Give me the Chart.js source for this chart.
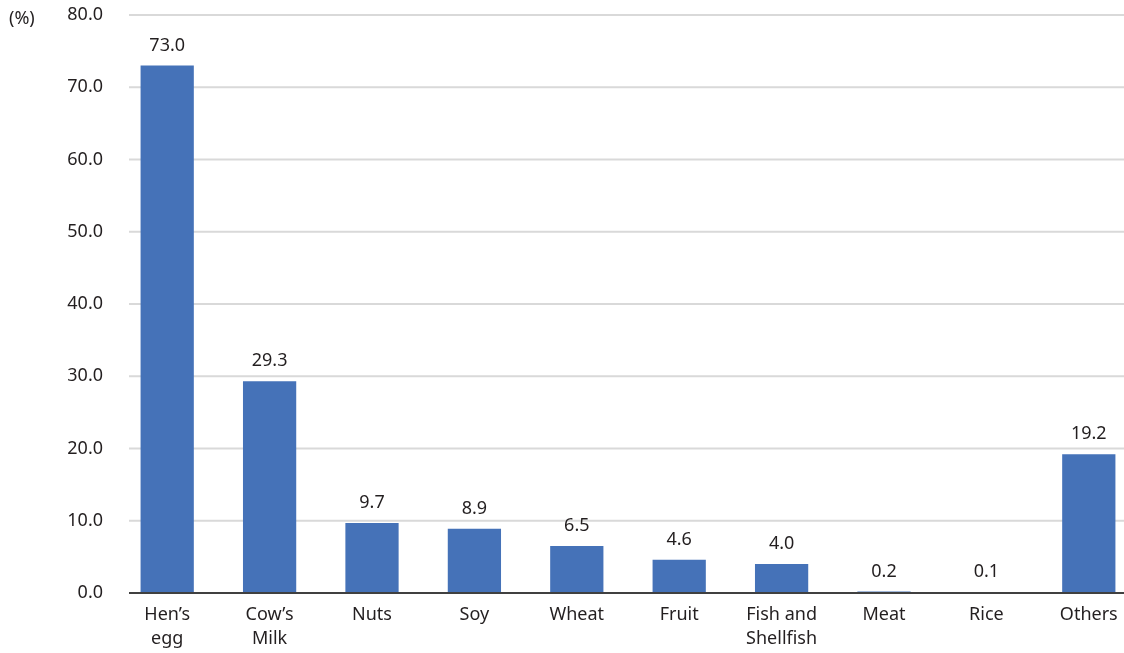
<!DOCTYPE html>
<html>
<head>
<meta charset="utf-8">
<script src="https://cdn.jsdelivr.net/npm/chart.js@4/dist/chart.umd.min.js"></script>
<style>
  html, body { margin: 0; padding: 0; background: #fff; overflow: hidden; }
  #wrap { position: relative; width: 1142px; height: 653px; }
  #unit { position: absolute; left: 9px; top: 5px; font: 18px "Noto Sans", sans-serif; color: #231f20; }
</style>
</head>
<body>
<div id="wrap">
  <canvas id="chart" width="1142" height="653"></canvas>
  <div id="unit">(%)</div>
</div>
<script>
const categories = [["Hen’s", "egg"], ["Cow’s", "Milk"], "Nuts", "Soy", "Wheat", "Fruit", ["Fish and", "Shellfish"], "Meat", "Rice", "Others"];
const values = [73.0, 29.3, 9.7, 8.9, 6.5, 4.6, 4.0, 0.2, 0.1, 19.2];
const yTicks = [0, 10, 20, 30, 40, 50, 60, 70, 80];

const textColor = "#231f20";
const fontFamily = "'Noto Sans', sans-serif";
const gridLeft = 129;

const gridPlugin = {
  id: "gridPlugin",
  beforeDatasetsDraw(chart) {
    const ctx = chart.ctx;
    const y = chart.scales.y;
    const right = chart.chartArea.right;
    ctx.save();
    ctx.strokeStyle = "#d9d9d9";
    ctx.lineWidth = 2;
    yTicks.forEach((t) => {
      if (t === 0) return;
      const py = y.getPixelForValue(t);
      ctx.beginPath();
      ctx.moveTo(gridLeft, py);
      ctx.lineTo(right, py);
      ctx.stroke();
    });
    ctx.restore();
  },
  afterDatasetsDraw(chart) {
    const ctx = chart.ctx;
    const y = chart.scales.y;
    ctx.save();
    // x axis line
    ctx.strokeStyle = "#404040";
    ctx.lineWidth = 2;
    const py = y.getPixelForValue(0);
    ctx.beginPath();
    ctx.moveTo(gridLeft, py);
    ctx.lineTo(chart.chartArea.right, py);
    ctx.stroke();
    // value labels
    ctx.fillStyle = textColor;
    ctx.font = "18px " + fontFamily;
    ctx.textAlign = "center";
    ctx.textBaseline = "middle";
    const meta = chart.getDatasetMeta(0);
    meta.data.forEach((bar, i) => {
      ctx.fillText(values[i].toFixed(1), bar.x, bar.y - 20);
    });
    ctx.restore();
  },
};

const ctx = document.getElementById("chart").getContext("2d");
new Chart(ctx, {
  type: "bar",
  data: {
    labels: categories,
    datasets: [
      {
        data: values,
        backgroundColor: "#4572b8",
        barPercentage: 0.52,
        categoryPercentage: 1,
      },
    ],
  },
  options: {
    responsive: false,
    animation: false,
    layout: { padding: { top: 15, right: 2, left: 0, bottom: 0 } },
    plugins: { legend: { display: false }, tooltip: { enabled: false } },
    scales: {
      x: {
        grid: { display: false, drawTicks: false },
        border: { display: false },
        ticks: { color: textColor, font: { size: 18, family: fontFamily, lineHeight: 1.33 }, padding: 10, maxRotation: 0, autoSkip: false },
        afterFit: (s) => { s.height = 60; s.paddingLeft = 0; s.paddingRight = 0; },
      },
      y: {
        min: 0,
        max: 80,
        afterBuildTicks: (s) => { s.ticks = yTicks.map((v) => ({ value: v })); },
        grid: { display: false, drawTicks: false },
        border: { display: false },
        ticks: { color: textColor, font: { size: 18, family: fontFamily }, padding: 13, callback: (v) => v.toFixed(1) },
        afterFit: (s) => { s.width = 116; s.paddingTop = 0; s.paddingBottom = 0; },
      },
    },
  },
  plugins: [gridPlugin],
});
</script>
</body>
</html>
